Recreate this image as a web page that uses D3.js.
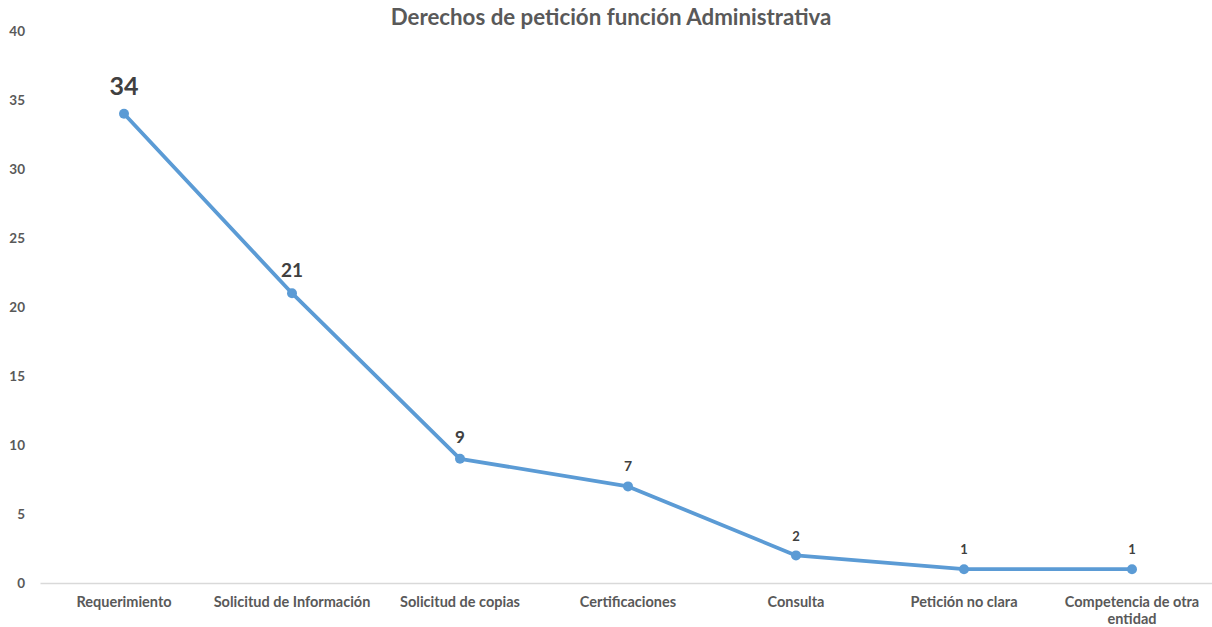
<!DOCTYPE html>
<html><head><meta charset="utf-8">
<script src="https://cdn.jsdelivr.net/npm/d3@7"></script>
<style>body{margin:0;background:#fff}svg{display:block}text{font-family:Lato,"Open Sans",sans-serif;font-weight:bold}</style>
</head><body>
<svg id="c" width="1212" height="627"></svg>
<script>
const categories = ["Requerimiento","Solicitud de Información","Solicitud de copias","Certificaciones","Consulta","Petición no clara","Competencia de otra entidad"];
const values = [34,21,9,7,2,1,1];
const yTicks = [0,5,10,15,20,25,30,35,40];
const title = "Derechos de petición función Administrativa";
const labelSizes = [25,19,17,14,13,13,13];

const svg = d3.select("#c");
const m = {l:40, r:1216, t:31, b:583};
const x = d3.scaleBand().domain(categories).range([m.l, m.r]);
const y = d3.scaleLinear().domain([0,40]).range([m.b, m.t]);

svg.append("text").attr("x",611).attr("y",25).attr("text-anchor","middle")
  .attr("font-size",22.3).attr("fill","#595959").text(title);

const ya = svg.append("g").attr("transform",`translate(${m.l},0)`)
  .call(d3.axisLeft(y).tickValues(yTicks).tickSize(0).tickPadding(15));
ya.select(".domain").remove();
ya.selectAll("text").attr("font-size",13.5).attr("fill","#595959").style("font-family","Lato, sans-serif").style("font-weight","bold");

const xa = svg.append("g").attr("transform",`translate(0,${m.b})`)
  .call(d3.axisBottom(x).tickSize(0).tickPadding(0));
xa.select(".domain").attr("stroke","#d9d9d9").attr("stroke-width",1.5);
xa.selectAll(".tick text").remove();
xa.selectAll(".tick").each(function(d){
  const g = d3.select(this);
  const t = g.append("text").attr("text-anchor","middle").attr("fill","#595959")
    .attr("font-size",14.5).style("font-family","Lato, sans-serif").style("font-weight","bold");
  const lines = d === "Competencia de otra entidad" ? ["Competencia de otra","entidad"] : [d];
  lines.forEach((s,i)=>t.append("tspan").attr("x",0).attr("y",24+i*17).text(s));
});

const cx = d => x(d) + x.bandwidth()/2;
const line = d3.line().x((d,i)=>cx(categories[i])).y(d=>y(d));
svg.append("path").datum(values).attr("d",line).attr("fill","none")
  .attr("stroke","#5B9BD5").attr("stroke-width",3.8).attr("stroke-linejoin","round");

svg.selectAll("circle").data(values).join("circle")
  .attr("cx",(d,i)=>cx(categories[i])).attr("cy",d=>y(d)).attr("r",5).attr("fill","#5B9BD5");

svg.selectAll(".lbl").data(values).join("text").attr("class","lbl")
  .attr("x",(d,i)=>cx(categories[i])).attr("y",(d,i)=>y(d)-11-labelSizes[i]*0.3)
  .attr("text-anchor","middle").attr("fill","#404040")
  .attr("font-size",(d,i)=>labelSizes[i]).text(d=>d);
</script>
</body></html>
